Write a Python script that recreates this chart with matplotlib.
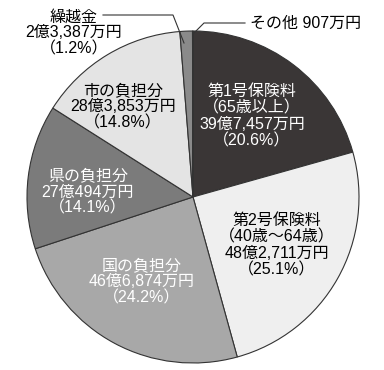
import matplotlib.pyplot as plt

plt.rcParams['font.family'] = ['Liberation Sans', 'Noto Sans CJK JP']

labels = ['第1号保険料\n（65歳以上）\n39億7,457万円\n（20.6%）',
          '第2号保険料\n（40歳～64歳）\n48億2,711万円\n（25.1%）',
          '国の負担分\n46億6,874万円\n（24.2%）',
          '県の負担分\n27億494万円\n（14.1%）',
          '市の負担分\n28億3,853万円\n（14.8%）',
          '繰越金\n2億3,387万円\n（1.2%）',
          'その他 907万円']
values = [397457, 482711, 466874, 270494, 283853, 23387, 907]  # 万円
colors = ['#3a3636', '#efefef', '#a8a8a8', '#7b7b7b', '#e4e4e4', '#8a8a8a', '#ffffff']
text_colors = ['white', 'black', 'white', 'white', 'black', 'black', 'black']

# label centres in pixel coords (x, y from top)
label_px = [(252, 116), (277, 245), (142, 282), (88, 192), (123, 107)]

fig = plt.figure(figsize=(3.84, 3.70), dpi=100)
cx, cy, r = 193, 197, 166
ax = fig.add_axes([(cx - r) / 384, (370 - cy - r) / 370, 2 * r / 384, 2 * r / 370])

wedges, _ = ax.pie(values, colors=colors, startangle=90, counterclock=False,
                   wedgeprops=dict(edgecolor='#333333', linewidth=0.8))
ax.set_xlim(-1, 1)
ax.set_ylim(-1, 1)


def to_data(px, py):
    return (px - cx) / r, (cy - py) / r


fs = 11.5
for i, (px, py) in enumerate(label_px):
    x, y = to_data(px, py)
    ax.text(x, y, labels[i], ha='center', va='center', fontsize=fs,
            color=text_colors[i], linespacing=1.1)

# 繰越金 label with leader
x, y = to_data(74, 33)
ax.text(x, y, labels[5], ha='center', va='center', fontsize=fs,
        linespacing=1.1, clip_on=False)
ax.plot([to_data(103, 15)[0], to_data(173, 15)[0], to_data(184, 43)[0]],
        [to_data(103, 15)[1], to_data(173, 15)[1], to_data(184, 43)[1]],
        color='#333333', lw=0.8, clip_on=False)

# その他 label with leader
x, y = to_data(250, 23)
ax.text(x, y, labels[6], ha='left', va='center', fontsize=fs, clip_on=False)
ax.plot([to_data(193, 34)[0], to_data(204, 23)[0], to_data(245, 23)[0]],
        [to_data(193, 34)[1], to_data(204, 23)[1], to_data(245, 23)[1]],
        color='#333333', lw=0.8, clip_on=False)

fig.savefig('out.png', dpi=100)
